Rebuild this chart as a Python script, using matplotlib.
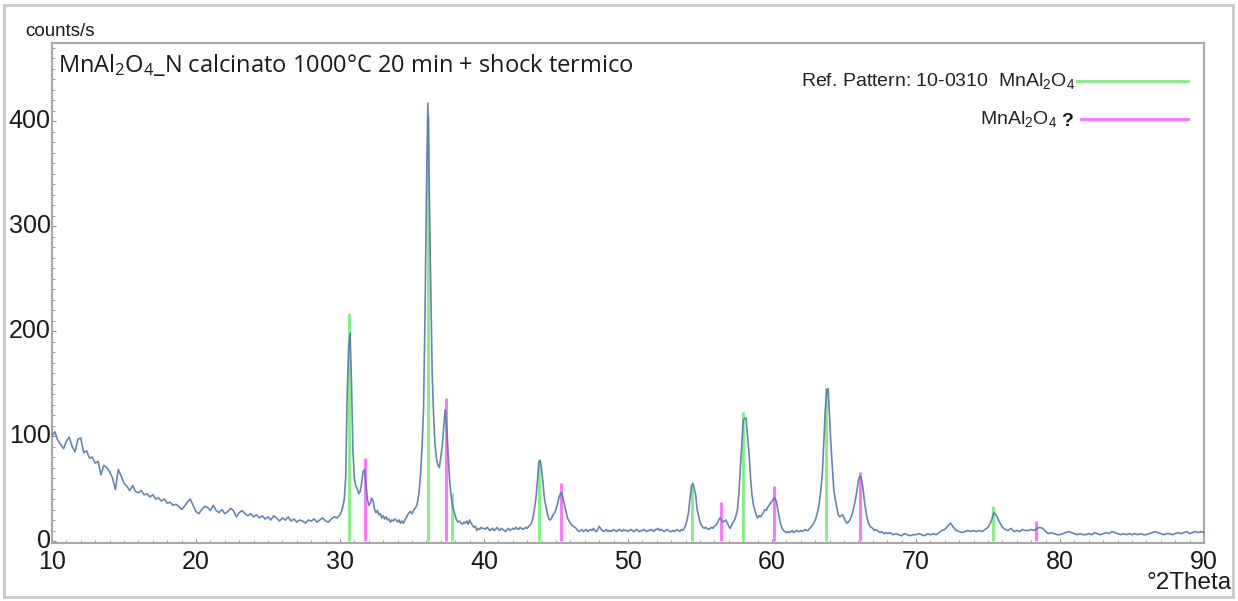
#!/usr/bin/env python3
# -*- coding: utf-8 -*-
# XRD pattern MnAl2O4_N, 1000C 20 min + shock termico, with ref. sticks

import numpy as np
import matplotlib
matplotlib.use('Agg')
import matplotlib.pyplot as plt
from matplotlib.ticker import MultipleLocator
from matplotlib.patches import Rectangle
from matplotlib.transforms import ScaledTranslation

plt.rcParams['font.family'] = ['Liberation Sans', 'DejaVu Sans']
plt.rcParams['mathtext.default'] = 'regular'

# ----------------------------- data (counts/s)
# 10.0 - 29.8 deg, step 0.2
cps_a = [100, 104, 96, 92, 88, 95, 99, 90, 85, 97,
         98, 84, 86, 79, 80, 74, 76, 63, 72, 70,
         66, 60, 49, 68, 62, 55, 52, 48, 53, 47,
         46, 48, 44, 45, 42, 44, 40, 41, 38, 40,
         36, 37, 34, 35, 33, 30, 33, 37, 40, 34,
         28, 26, 30, 33, 32, 29, 34, 29, 27, 30,
         26, 28, 31, 29, 23, 27, 29, 26, 24, 26,
         23, 25, 22, 24, 21, 23, 20, 24, 22, 19,
         22, 20, 23, 19, 21, 18, 20, 19, 17, 20,
         19, 21, 18, 20, 22, 19, 18, 21, 23, 22]
# 30.0 - 38.9 deg, step 0.1
cps_b = [25, 28, 33, 40, 62, 140, 185, 198, 150, 85,
         60, 52, 50, 45, 47, 55, 66, 68, 55, 40,
         34, 36, 41, 38, 30, 27, 29, 25, 26, 22,
         24, 21, 23, 20, 21, 18, 20, 19, 21, 20,
         18, 20, 17, 19, 17, 20, 22, 25, 27, 28,
         26, 29, 31, 33, 38, 48, 65, 90, 125, 210,
         330, 417, 330, 240, 160, 120, 92, 78, 72, 70,
         80, 90, 108, 125, 112, 85, 60, 45, 35, 29,
         24, 20, 18, 19, 17, 16, 18, 17, 19, 16]
# 39.0 - 67.9 deg, step 0.1
cps_c = [20, 17, 15, 13, 14, 10, 12, 11, 13, 12,
         12, 11, 13, 12, 10, 11, 12, 10, 11, 13,
         11, 10, 12, 11, 10, 9, 11, 12, 10, 11,
         12, 11, 13, 12, 11, 13, 12, 11, 12, 13,
         12, 14, 15, 17, 22, 30, 40, 55, 75, 77,
         68, 55, 40, 33, 26, 21, 20, 22, 25, 27,
         30, 35, 41, 45, 46, 40, 34, 28, 22, 19,
         17, 15, 14, 13, 12, 10, 9, 10, 11, 9,
         10, 11, 9, 10, 11, 10, 12, 10, 9, 11,
         14, 12, 10, 9, 10, 11, 9, 10, 9, 10,
         11, 10, 9, 10, 11, 10, 9, 11, 10, 10,
         9, 10, 11, 10, 9, 10, 11, 10, 9, 10,
         10, 11, 10, 9, 10, 10, 11, 10, 9, 11,
         11, 12, 10, 11, 10, 9, 10, 11, 10, 9,
         9, 10, 9, 10, 11, 10, 9, 11, 10, 12,
         15, 20, 27, 40, 52, 55, 50, 44, 30, 24,
         18, 15, 13, 12, 13, 12, 11, 12, 13, 12,
         14, 15, 17, 20, 22, 20, 18, 19, 20, 17,
         14, 12, 15, 18, 20, 24, 30, 45, 68, 90,
         115, 117, 117, 100, 85, 62, 45, 35, 30, 25,
         22, 24, 23, 25, 27, 30, 29, 32, 34, 36,
         38, 40, 41, 38, 30, 23, 16, 12, 10, 9,
         8, 9, 8, 9, 10, 8, 9, 10, 9, 9,
         10, 9, 10, 11, 10, 10, 12, 13, 15, 17,
         20, 24, 30, 38, 50, 65, 95, 125, 144, 145,
         118, 90, 68, 48, 39, 32, 25, 23, 24, 25,
         22, 19, 17, 18, 20, 23, 27, 33, 40, 48,
         58, 62, 60, 52, 40, 30, 22, 17, 14, 13,
         12, 10, 11, 10, 9, 8, 9, 8, 7, 8]
# 68.0 - 90.0 deg, step 0.2
cps_d = [7, 8, 6, 7, 6, 5, 7, 6, 5, 6,
         6, 7, 6, 5, 7, 6, 7, 6, 8, 10,
         11, 14, 17, 13, 10, 9, 8, 9, 10, 9,
         10, 9, 10, 9, 11, 13, 18, 27, 24, 18,
         13, 11, 10, 12, 9, 10, 9, 11, 10, 10,
         11, 10, 12, 13, 12, 9, 7, 8, 7, 6,
         6, 7, 8, 9, 8, 7, 6, 7, 6, 6,
         7, 6, 8, 7, 6, 7, 8, 7, 9, 8,
         7, 6, 7, 6, 7, 6, 7, 6, 7, 6,
         6, 7, 8, 9, 8, 7, 6, 7, 7, 6,
         7, 8, 7, 8, 9, 7, 8, 9, 8, 9,
         8]
seg_start = [10.0, 30.0, 39.0, 68.0]
seg_step = [0.2, 0.1, 0.1, 0.2]

# reference pattern 10-0310 MnAl2O4 (green) and MnAl2O4 ? (pink)
ref_pos = [30.62, 36.09, 37.76, 43.84, 54.42, 58.02, 63.75, 75.33]
ref_hgt = [217, 405, 46, 77, 53, 123, 146, 33]
unk_pos = [31.72, 37.36, 45.37, 56.43, 60.12, 66.12, 78.3]
unk_hgt = [79, 136, 55, 37, 52, 66, 19]

tt = []
cps = []
for s0, ds, vals in zip(seg_start, seg_step, [cps_a, cps_b, cps_c, cps_d]):
    tt += list(s0 + ds*np.arange(len(vals)))
    cps += vals
tt = np.array(tt)
cps = np.array(cps)

# ----------------------------- plot
W, H = 1238, 601
def px(x, y):
    return (x/W, 1-y/H)

fig = plt.figure(figsize=(W/100, H/100), dpi=100)
fig.patches.append(Rectangle((4/W, 4/H), 1-9/W, 1-9/H, transform=fig.transFigure,
                             fill=False, ec='#c8c8c8', lw=2))
ax = fig.add_axes([52/W, 58/H, 1152/W, 500/H])

green = '#7ff07f'
pink = '#ff6cff'
ax.vlines(ref_pos, 0, ref_hgt, colors=green, lw=2, zorder=2)
ax.vlines(unk_pos, 0, unk_hgt, colors=pink, lw=2, zorder=2)
ax.plot(tt, cps, color='#5478ad', lw=1.2, alpha=0.9, zorder=3)

ax.set_xlim(10, 90)
ax.set_ylim(-1.9, 474.3)
ax.xaxis.set_major_locator(MultipleLocator(10))
ax.xaxis.set_minor_locator(MultipleLocator(1))
ax.yaxis.set_major_locator(MultipleLocator(100))
ax.yaxis.set_minor_locator(MultipleLocator(10))
ax.tick_params(which='both', direction='in', color='#8a8a8a', labelsize=18,
               labelcolor='#1a1a1a')
ax.tick_params(axis='x', pad=5)
ax.tick_params(axis='y', pad=1)
ax.tick_params(which='major', length=3)
ax.tick_params(which='minor', length=2)
for sp in ax.spines.values():
    sp.set_color('#a8a8a8')
    sp.set_linewidth(1.5)
# lift the y labels a touch so "0" clears the "10" below it
lift = ScaledTranslation(0, 2/72, fig.dpi_scale_trans)
for lbl in ax.get_yticklabels():
    lbl.set_transform(lbl.get_transform() + lift)

fig.text(*px(25, 32), 'counts/s', fontsize=13.5, va='center', ha='left', color='#1a1a1a')
fig.text(*px(1232, 583), '°2Theta', fontsize=17.5, va='center', ha='right', color='#1a1a1a')

# title inside the frame
fig.text(*px(58, 65), 'MnAl$_2$O$_4$_N calcinato 1000°C 20 min + shock termico',
         family=['Open Sans', 'DejaVu Sans'], fontsize=17, va='center', ha='left',
         color='#1a1a1a')

# legend
fig.text(*px(1075, 81), 'Ref. Pattern: 10-0310  MnAl$_2$O$_4$', fontsize=14,
         va='center', ha='right', color='#222222')
fig.lines.append(plt.Line2D([1077/W, 1188/W], [1-81/H, 1-81/H], transform=fig.transFigure,
                            color=green, lw=2))
fig.text(*px(1057, 119), 'MnAl$_2$O$_4$', fontsize=14, va='center', ha='right',
         color='#222222')
fig.text(*px(1061, 121), '?', fontsize=14, va='center', ha='left', weight='bold',
         color='#1a1a1a')
fig.lines.append(plt.Line2D([1081/W, 1188/W], [1-119/H, 1-119/H], transform=fig.transFigure,
                            color=pink, lw=2))

plt.savefig('out.png', dpi=100)
